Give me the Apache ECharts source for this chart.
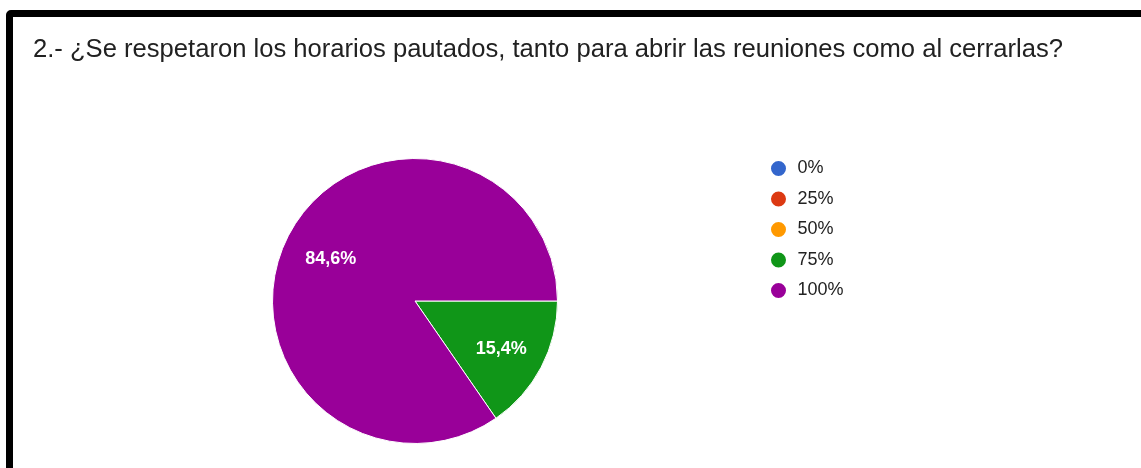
<!DOCTYPE html>
<html>
<head>
<meta charset="utf-8">
<script src="https://cdn.jsdelivr.net/npm/echarts@6/dist/echarts.min.js"></script>
<style>
  html, body { margin: 0; padding: 0; background: #fff; width: 1141px; height: 468px; overflow: hidden; }
  #frame {
    position: absolute; left: 6px; top: 10px; width: 1160px; height: 500px;
    border: 7px solid #000; border-radius: 5px; box-sizing: border-box;
  }
  #chart { position: absolute; left: 0; top: 0; width: 1141px; height: 468px; }
</style>
</head>
<body>
<div id="frame"></div>
<div id="chart"></div>
<script>
// Survey question and answer options
const titleText = '2.- ¿Se respetaron los horarios pautados, tanto para abrir las reuniones como al cerrarlas?';
const categories = ['0%', '25%', '50%', '75%', '100%'];
// Number of responses per option
const responses = [0, 0, 0, 2, 11];
const palette = ['#3366cc', '#dc3912', '#ff9900', '#109618', '#990099'];

const chart = echarts.init(document.getElementById('chart'), null, { renderer: 'canvas' });

const pieData = categories.map((name, i) => ({ name: name, value: responses[i] }));
const pieCenter = [415, 301];
const pieRadius = 142.5;

const percentLabel = p => p.value ? String(p.percent).replace('.', ',') + '%' : '';

chart.setOption({
  animation: false,
  color: palette,
  title: {
    text: titleText,
    left: 28,
    top: 32,
    textStyle: { fontFamily: 'Liberation Sans', fontSize: 25.6, fontWeight: 'normal', color: '#212121' }
  },
  legend: {
    orient: 'vertical',
    left: 764,
    top: 154,
    icon: 'circle',
    itemWidth: 20,
    itemHeight: 17,
    itemGap: 11.5,
    data: categories,
    textStyle: { fontFamily: 'Liberation Sans', fontSize: 18, color: '#222', padding: [0, 0, 0, 4] }
  },
  series: [{
    // the visible pie
    type: 'pie',
    center: pieCenter,
    radius: [0, pieRadius],
    startAngle: 0,
    clockwise: true,
    percentPrecision: 1,
    itemStyle: { borderColor: '#fff', borderWidth: 1 },
    label: { show: false },
    labelLine: { show: false },
    emphasis: { disabled: true },
    data: pieData
  }, {
    // transparent ring carrying the percentage labels further out from the centre
    type: 'pie',
    center: pieCenter,
    radius: [pieRadius * 0.31, pieRadius],
    startAngle: 0,
    clockwise: true,
    percentPrecision: 1,
    silent: true,
    z: 3,
    itemStyle: { color: 'rgba(0,0,0,0)', borderWidth: 0 },
    label: {
      position: 'inside',
      offset: [1, 3],
      color: '#fff',
      fontFamily: 'Liberation Sans',
      fontSize: 18,
      fontWeight: 'bold',
      formatter: percentLabel
    },
    labelLine: { show: false },
    data: pieData
  }]
});
</script>
</body>
</html>
